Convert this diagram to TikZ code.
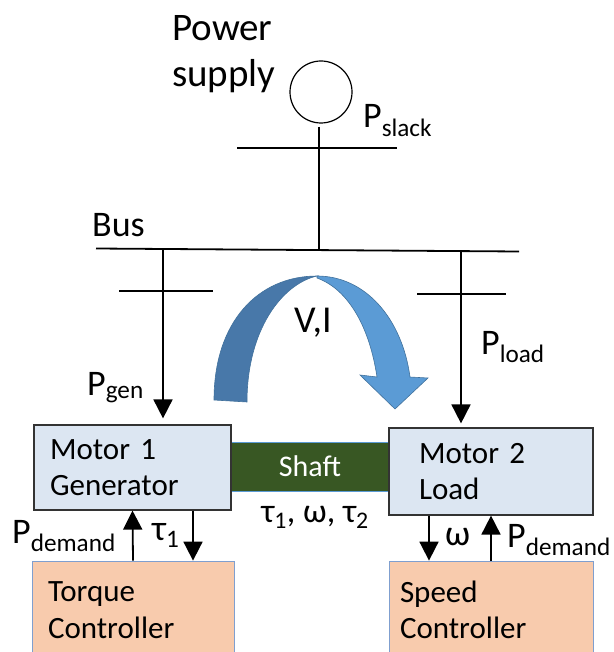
\documentclass[tikz,border=0pt]{standalone}
\usepackage{fontspec}
\setmainfont{Carlito}
\usepackage{xcolor}
\usepackage{tikz}
\usetikzlibrary{arrows.meta}

\definecolor{motorfill}{HTML}{DCE6F2}
\definecolor{ctrlfill}{HTML}{F8CBAD}
\definecolor{ctrledge}{HTML}{7F9FCF}
\definecolor{shaftfill}{HTML}{385723}
\definecolor{arcdark}{HTML}{4878A9}
\definecolor{arclight}{HTML}{5B9BD5}
\definecolor{arcedge}{HTML}{41719C}

\begin{document}
\begin{tikzpicture}[
  x=1pt, y=-1pt,
  motor/.style={draw=black!80, line width=1.2pt, fill=motorfill, align=left, minimum height=85pt, font=\fontsize{31}{35.5}\selectfont},
  ctrl/.style={draw=ctrledge, line width=0.8pt, fill=ctrlfill, align=left, minimum height=98pt, font=\fontsize{31}{36.5}\selectfont},
  lbl/.style={inner sep=0pt, anchor=base west, font=\fontsize{36}{40}\selectfont},
  bar/.style={line width=1.8pt},
  edge/.style={line width=1.8pt, -{Triangle[length=19pt, width=19pt]}}
]
\useasboundingbox (0,0) rectangle (613,652);

% supply and bus
\node[inner sep=0pt, anchor=base west, align=left, font=\fontsize{39}{46}\selectfont] (supplytxt) at (172,87) {Power\\supply};
\node[circle, draw, line width=1.2pt, minimum size=62pt, inner sep=0pt] (src) at (321,92) {};
\coordinate (busL) at (96,248.5);
\coordinate (busR) at (519,251.5);
\coordinate (slackJ) at (319,250.1);
\coordinate (genJ) at (163,249);
\coordinate (loadJ) at (461,251.1);
\draw[bar] (busL) -- (busR);
\draw[bar] (src.south) ++(-2,3) -- (slackJ);
\draw[bar] (237,148) -- (397,148);
\node[lbl] (pslack) at (363,128) {P\textsubscript{slack}};
\node[lbl] (bus) at (92,236) {Bus};

% shaft and machines
\node[draw=arclight, line width=0.8pt, fill=shaftfill, text=white, minimum width=160pt, minimum height=49pt, font=\fontsize{30}{34}\selectfont] (shaft) at (310,466.5) {Shaft};
\node[motor, text width=165pt, inner xsep=16pt] (m1) at (132.5,467.5) {Motor 1\\Generator};
\node[motor, text width=144pt, inner xsep=30pt, minimum height=87pt] (m2) at (491,471.5) {Motor 2\\Load};
\node[ctrl, text width=170pt, inner xsep=16pt] (tc) at (133,610) {Torque\\Controller};
\node[ctrl, text width=182pt, inner xsep=11pt] (sc) at (491,610) {Speed\\Controller};
\node[lbl, anchor=base, font=\fontsize{34}{38}\selectfont] (shaftvars) at (315,522) {τ\textsubscript{1}, ω, τ\textsubscript{2}};

% feeders
\draw[bar] (119,291) -- (213,291);
\draw[bar] (417,294) -- (506,294);
\draw[edge, shorten >=6pt] (genJ) -- (genJ |- m1.north);
\draw[edge, shorten >=4pt] (loadJ) -- (loadJ |- m2.north);
\node[lbl] (pgen) at (87,395) {P\textsubscript{gen}};
\node[lbl] (pload) at (481,354) {P\textsubscript{load}};

% V,I transfer
\draw[arcedge, line width=0.6pt, fill=arcdark] (214,400) .. controls (214,322) and (258,276) .. (317,276)
  .. controls (282,284) and (247,330) .. (247,402) -- cycle;
\draw[arcedge, line width=0.6pt, fill=arclight] (317,276) .. controls (365,276) and (402,318) .. (410,377)
  -- (428,378) -- (395,409) -- (360,375) -- (377,377) .. controls (370,330) and (350,290) .. (317,278) -- cycle;
\node[lbl, anchor=base, font=\fontsize{38}{42}\selectfont] (vi) at (313,332) {V,I};

% controller links
\draw[edge] (tc.north) -- (m1.south);
\draw[edge] ([xshift=60.5pt]m1.south) -- ([xshift=60.5pt]m1.south |- tc.north);
\node[lbl] (pdem1) at (12,543) {P\textsubscript{demand}};
\node[lbl] (tau1) at (152,540) {τ\textsubscript{1}};
\draw[edge] ([xshift=-62pt]m2.south) -- ([xshift=-62pt]m2.south |- sc.north);
\draw[edge] (sc.north) -- (m2.south);
\node[lbl] (omega) at (445,545) {ω};
\node[lbl] (pdem2) at (507,547) {P\textsubscript{demand}};
\end{tikzpicture}
\end{document}
